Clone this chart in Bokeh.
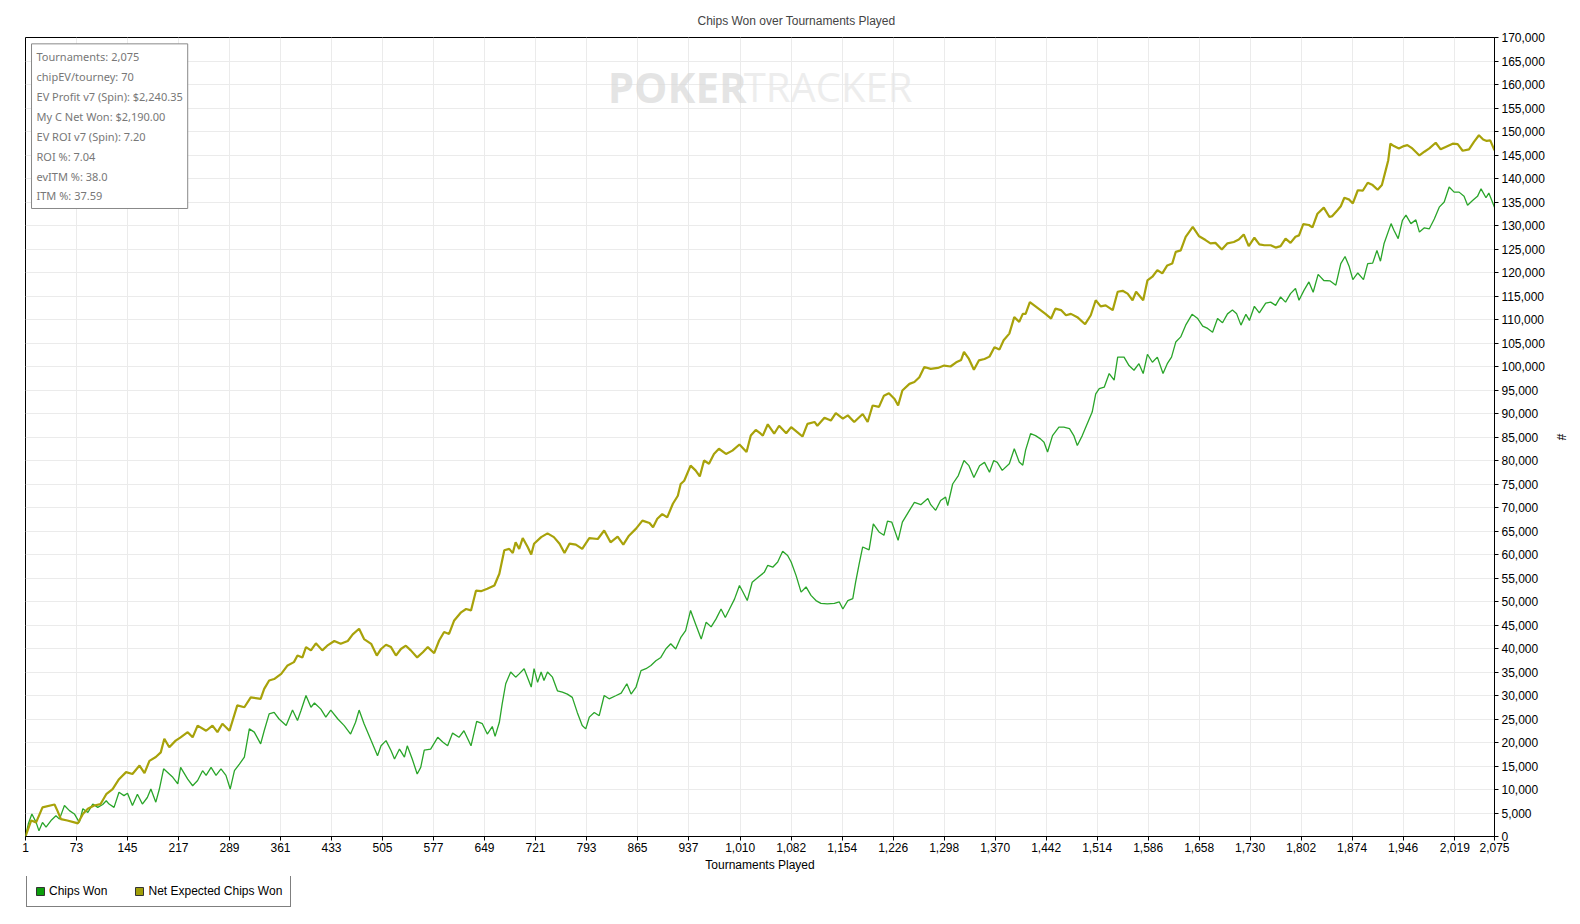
from bokeh.plotting import figure
from bokeh.layouts import column
from bokeh.models import (Range1d, FixedTicker, SingleIntervalTicker, NumeralTickFormatter,
                          Legend, LegendItem, Label, ColumnDataSource)
from bokeh.embed import file_html
from bokeh.resources import INLINE

# ---- data ----
ev_t = [1, 9, 16, 25, 42, 46, 51, 60, 70, 75, 82, 89, 98, 107, 115, 124, 133, 143, 152, 162, 169, 176, 185, 192,
        197, 204, 213, 220, 230, 237, 244, 256, 265, 272, 279, 289, 300, 310, 319, 333,
        338, 345, 352, 362, 371, 380, 385, 392, 397, 404, 411, 420, 427, 437, 446, 456, 463, 472, 479, 489, 497,
        503, 510, 517, 524, 531, 538, 545, 554, 562, 569, 578, 585, 592, 599, 606, 616, 623, 630, 637, 644, 653,
        663, 670, 677, 684, 689, 693, 698,
        703, 710, 715, 719, 729, 738, 747, 755, 762, 769, 778, 787, 797, 809, 818, 827, 837, 845, 853, 863, 872,
        882, 887, 893, 900, 907, 915, 922, 926, 931, 940, 947, 953, 959, 966, 973, 980, 990, 999, 1009, 1019,
        1025, 1032, 1039,
        1042, 1049, 1058, 1065, 1075, 1082, 1091, 1098, 1105, 1115, 1119, 1129, 1138, 1145, 1155, 1162, 1171,
        1183, 1190, 1197, 1206, 1213, 1220, 1228, 1233, 1239, 1249, 1256, 1263, 1270, 1279, 1289, 1298, 1307,
        1315, 1322, 1326, 1333, 1340, 1347, 1355, 1362, 1369, 1376, 1382, 1390,
        1397, 1404, 1409, 1413, 1419, 1427, 1434, 1441, 1449, 1455, 1463, 1470, 1477, 1486, 1497, 1505, 1512,
        1519, 1526, 1536, 1543, 1550, 1557, 1564, 1569, 1579, 1585, 1592, 1599, 1606, 1613, 1620, 1625, 1632,
        1639, 1649, 1658, 1667, 1674, 1681, 1690, 1698, 1707, 1714, 1721, 1728, 1736,
        1743, 1750, 1759, 1766, 1773, 1780, 1787, 1794, 1799, 1805, 1813, 1818, 1825, 1834, 1842, 1846, 1853,
        1858, 1863, 1870, 1875, 1882, 1889, 1896, 1903, 1910, 1916, 1922, 1925, 1928, 1933, 1940, 1947, 1952,
        1959, 1969, 1976, 1983, 1992, 1999, 2006, 2016, 2023, 2030, 2039, 2046, 2053, 2059, 2064, 2069, 2075]
ev_v = [0, 3400, 3000, 6200, 6800, 5500, 3700, 3400, 3000, 2800, 4800, 5900, 6600, 6900, 9000, 10100, 12200,
        13700, 13300, 15100, 13500, 16100, 16900, 17900, 20800, 19000, 20400, 21100, 22200, 21100, 23600, 22500,
        23600, 22200, 24000, 22500, 27900, 27500, 29600, 29300,
        31400, 33200, 33500, 34600, 36400, 37100, 38500, 38100, 40300, 39600, 41100, 39600, 40600, 41600, 41000,
        41600, 43000, 44200, 42000, 41000, 38500, 39900, 40800, 40300, 38500, 39900, 40600, 39600, 38100, 39200,
        40300, 39000, 41700, 43500, 43100, 45900, 47700, 48400, 48100, 52300, 52200, 52700, 53400, 55900, 60900,
        61200, 60300, 62600, 61200,
        63500, 61600, 60000, 62300, 63700, 64500, 63700, 62300, 60300, 62300, 62100, 61200, 63500, 63300, 65100,
        62600, 63800, 62100, 64000, 65500, 67200, 66700, 65800, 67600, 68600, 67900, 70800, 72500, 75000, 75700,
        78900, 77900, 76600, 80000, 79300, 81400, 82500, 81400, 82100, 83400, 81800, 85300, 86500, 85700,
        85300, 87700, 85700, 87400, 85800, 87100, 86000, 85100, 87800, 88200, 87400, 89100, 88500, 90100, 88900,
        89600, 88200, 89900, 88200, 91700, 91400, 93800, 94300, 93100, 91700, 94900, 96300, 96700, 97700, 99900,
        99500, 99700, 100200, 100000, 100900, 101400, 103100, 101600, 99300, 101300, 101600, 102100, 104100,
        103600, 105600, 107000,
        110500, 109500, 111200, 111200, 113700, 112800, 112000, 111200, 110200, 112300, 112000, 110900, 111200,
        110500, 109000, 110900, 114100, 112800, 113000, 112000, 115900, 116100, 115500, 114100, 115900, 114100,
        118300, 119100, 120500, 119800, 121500, 121900, 124400, 124700, 127600, 129700, 127700, 126900, 126200,
        126300, 124900, 126200, 126500, 127000, 128100, 125600, 127400,
        126000, 125800, 125800, 125300, 125600, 127200, 126300, 127600, 127900, 130300, 130100, 129600, 132500,
        133800, 131800, 132000, 133200, 134100, 135900, 135500, 134700, 137500, 137400, 139100, 138600, 137600,
        138600, 142100, 143900, 147400, 146900, 146400, 146900, 147100, 146400, 144900, 145700, 146400, 147600,
        146200, 146700, 147400, 147300, 145900, 146200, 147800, 149200, 148300, 148000, 148100, 146000]

won_t = [1, 5, 10, 16, 20, 25, 30, 37, 44, 49, 56, 63, 70, 77, 82, 89, 96, 103, 110, 115, 119, 126, 133, 140, 145,
         152, 159, 166, 173, 178, 185, 190, 196, 204, 209, 216, 220, 230, 237, 244, 251, 256, 263, 270, 277, 284,
         290, 296, 303, 310, 317, 324, 333,
         338, 345, 352, 359, 369, 378, 385, 390, 397, 404, 409, 418, 425, 432, 442, 451, 460, 467, 472, 479, 489,
         498, 503, 510, 517, 522, 529, 536, 540, 547, 554, 559, 564, 573, 583, 590, 597, 604, 613, 620, 630, 638,
         646, 653, 660, 664, 670, 674, 679, 686, 693, 698,
         705, 715, 719, 724, 729, 733, 738, 745, 752, 759, 766, 773, 780, 787, 792, 797, 804, 811, 818, 825, 835,
         842, 850, 856, 863, 870, 877, 884, 891, 898, 905, 912, 919, 926, 933, 940, 947, 955, 962, 969, 976, 983,
         989, 995, 1002, 1009, 1013, 1020, 1027, 1035, 1044,
         1049, 1056, 1063, 1070, 1077, 1082, 1089, 1096, 1103, 1110, 1117, 1124, 1133, 1143, 1150, 1155, 1162,
         1169, 1173, 1178, 1183, 1192, 1198, 1206, 1213, 1218, 1224, 1233, 1239, 1249, 1256, 1265, 1275, 1279,
         1286, 1293, 1300, 1303, 1310, 1318, 1326, 1333, 1340, 1348, 1355, 1362, 1368, 1373, 1380, 1390,
         1397, 1404, 1409, 1413, 1420, 1427, 1434, 1439, 1444, 1451, 1460, 1467, 1475, 1481, 1486, 1493, 1500,
         1507, 1512, 1517, 1524, 1531, 1538, 1543, 1552, 1559, 1566, 1573, 1579, 1585, 1592, 1599, 1607, 1613,
         1619, 1625, 1632, 1639, 1648, 1656, 1663, 1670, 1677, 1684, 1691, 1698, 1705, 1711, 1717, 1724, 1729,
         1736,
         1743, 1752, 1759, 1766, 1773, 1780, 1787, 1794, 1799, 1806, 1813, 1819, 1826, 1834, 1843, 1851, 1858,
         1864, 1870, 1875, 1882, 1890, 1896, 1903, 1909, 1914, 1919, 1929, 1933, 1939, 1945, 1950, 1957, 1964,
         1969, 1976, 1983, 1990, 1997, 2004, 2011, 2018, 2025, 2032, 2037, 2044, 2051, 2056, 2063, 2067, 2075]
won_v = [0, 2700, 4800, 3000, 1200, 3000, 2000, 3400, 4400, 3700, 6600, 5500, 4800, 3000, 5900, 5100, 6900, 6200,
         6800, 7600, 6900, 6200, 9400, 8700, 9200, 6600, 9000, 6900, 8300, 10100, 7300, 10100, 14400, 13300,
         12600, 11200, 14700, 12200, 10800, 11900, 14000, 13000, 14700, 13000, 14400, 13000, 10100, 14000, 15400,
         16900, 22900, 22200, 19700,
         22500, 26100, 26400, 25000, 23600, 26900, 24700, 26800, 30000, 27500, 28400, 27100, 25400, 26900, 25000,
         23600, 21800, 24300, 26900, 24000, 20400, 17200, 19300, 20400, 18300, 16500, 18600, 16900, 19300, 16500,
         13300, 14700, 18400, 18600, 21100, 20100, 19300, 22000, 21100, 22500, 19300, 24500, 24000, 21800, 23400,
         21300, 24300, 28200, 32500, 35000, 33900, 34600,
         35700, 31800, 35700, 32800, 35000, 33200, 35000, 33900, 31000, 30700, 30300, 29600, 26400, 23600, 22900,
         25400, 26400, 25700, 30000, 29300, 30000, 30500, 32500, 30300, 31800, 35300, 35700, 36400, 37400, 38100,
         39900, 41000, 39900, 42300, 43800, 48100, 45200, 42000, 45600, 44600, 46300, 48400, 46600, 48400, 50500,
         53400, 52300, 50200, 54100, 55100, 56200,
         57700, 57300, 58400, 60700, 59800, 58400, 55500, 52000, 53100, 51300, 50200, 49600, 49500, 49600, 49900,
         48400, 50200, 50600, 54100, 58000, 61600, 61000, 66500, 64800, 64100, 67100, 66900, 63000, 66900, 69400,
         71100, 70600, 71900, 70600, 69400, 71500, 72200, 70400, 75000, 76800, 80000, 78900, 76400, 78900, 79600,
         77500, 80000, 79600, 77900, 79300,
         82500, 79700, 79000, 82200, 85700, 85300, 84600, 83900, 81800, 85300, 87100, 87100, 86800, 85300, 83200,
         85300, 87800, 90300, 94200, 95300, 95600, 98500, 97100, 102000, 102000, 100200, 99200, 100600, 98500,
         102600, 100900, 102000, 98500, 100600, 102000, 105200, 106300, 108800, 111100, 110200, 108600, 108100,
         107300, 110200, 109300, 111200, 112000, 111200, 108800, 111100, 109800, 112800,
         111400, 113500, 113700, 113000, 114800, 113700, 115500, 116600, 114100, 116200, 118000, 115800, 119600,
         118300, 118200, 117300, 121900, 123400, 121200, 118500, 119900, 118500, 121900, 122000, 124700, 122400,
         126100, 130400, 129000, 127200, 131100, 132200, 130400, 131200, 128600, 129500, 129300, 131400, 133900,
         135000, 138200, 137100, 137100, 136200, 134300, 135300, 136200, 137800, 135900, 136900, 133900]

x_ticks = [1, 73, 145, 217, 289, 361, 433, 505, 577, 649, 721, 793, 865, 937, 1010, 1082, 1154, 1226, 1298,
           1370, 1442, 1514, 1586, 1658, 1730, 1802, 1874, 1946, 2019, 2075]
series_names = ["Chips Won", "Net Expected Chips Won"]
info_lines = ["Tournaments: 2,075", "chipEV/tourney: 70", "EV Profit v7 (Spin): $2,240.35",
              "My C Net Won: $2,190.00", "EV ROI v7 (Spin): 7.20", "ROI %: 7.04", "evITM %: 38.0",
              "ITM %: 37.59"]

GREEN = "#2aa52a"
OLIVE = "#a8a20a"
FONT = "Liberation Sans"
NAN = float("nan")

p = figure(width=1572, height=876, x_range=Range1d(1, 2075), y_range=Range1d(0, 170000),
           y_axis_location="right", toolbar_location=None, output_backend="svg",
           min_border_left=25, min_border_right=78, min_border_top=37, min_border_bottom=40)
p.background_fill_color = "white"
p.border_fill_color = "white"
p.outline_line_color = "black"
p.outline_line_width = 1

p.title.text = "Chips Won over Tournaments Played"
p.title.text_font = FONT
p.title.text_font_size = "12px"
p.title.text_font_style = "normal"
p.title.align = "left"
p.title.offset = 672
p.title.standoff = 20

# axes
xa = p.xaxis[0]
xa.ticker = FixedTicker(ticks=x_ticks)
xa.formatter = NumeralTickFormatter(format="0,0")
xa.axis_label = "Tournaments Played"
ya = p.yaxis[0]
ya.ticker = SingleIntervalTicker(interval=5000, num_minor_ticks=0)
ya.formatter = NumeralTickFormatter(format="0,0")
ya.axis_label = "#"
for ax in (xa, ya):
    ax.axis_line_color = "black"
    ax.major_tick_line_color = "black"
    ax.major_tick_out = 4
    ax.major_tick_in = 0
    ax.minor_tick_line_color = None
    ax.major_label_text_font = FONT
    ax.major_label_text_font_size = "12px"
    ax.major_label_text_color = "black"
    ax.major_label_standoff = 3
    ax.axis_label_text_font = FONT
    ax.axis_label_text_font_size = "12px"
    ax.axis_label_text_font_style = "normal"
    ax.axis_label_text_color = "black"
xa.major_label_standoff = 2
xa.axis_label_standoff = 3
ya.axis_label_standoff = 6

p.xgrid.ticker = FixedTicker(ticks=x_ticks)
p.ygrid.ticker = SingleIntervalTicker(interval=5000, num_minor_ticks=0)
p.xgrid.grid_line_color = "#ebebeb"
p.ygrid.grid_line_color = "#ebebeb"

# watermark
p.add_layout(Label(x=823, y=159600, text="POKER", text_font="Open Sans", text_font_size="42px",
                   text_font_style="bold", text_color="#d9d9d9", text_alpha=0.7, text_baseline="alphabetic"))
p.add_layout(Label(x=1015, y=159600, text="TRACKER", text_font="Open Sans", text_font_size="40px",
                   text_color="#e6e6e6", text_alpha=0.7, text_baseline="alphabetic"))

# series
r_won = p.line(won_t, won_v, line_color=GREEN, line_width=1.3)
r_ev = p.line(ev_t, ev_v, line_color=OLIVE, line_width=2.2)

# info box
info = Label(x=9.5, y=168650, text="\n".join(info_lines), text_font="Noto Sans", text_font_size="11px",
             text_color="#777777", text_align="left", text_baseline="top", text_line_height=1.33,
             border_line_color="#888888", border_line_width=1, background_fill_color="white",
             padding=5)
p.add_layout(info)

# legend strip below the chart (square swatches; the NaN quads only supply the swatch style)
lg = figure(width=1572, height=40, x_range=Range1d(0, 1), y_range=Range1d(0, 1),
            x_axis_location=None, y_axis_location=None, toolbar_location=None, output_backend="svg",
            min_border_left=0, min_border_right=0, min_border_top=0, min_border_bottom=0)
lg.outline_line_color = None
lg.grid.visible = False
lg.background_fill_color = "white"
lg.border_fill_color = "white"
swatch = ColumnDataSource(dict(l=[NAN], r=[NAN], b=[NAN], t=[NAN]))
sw_won = lg.quad(left="l", right="r", bottom="b", top="t", source=swatch, fill_color="#0b9e0b",
                 line_color="#333333")
sw_ev = lg.quad(left="l", right="r", bottom="b", top="t", source=swatch, fill_color="#a09e08",
                line_color="#333333")
legend = Legend(items=[LegendItem(label=series_names[0], renderers=[sw_won]),
                       LegendItem(label=series_names[1], renderers=[sw_ev])],
                orientation="horizontal", location=(1, 9))
legend.label_text_font = FONT
legend.label_text_font_size = "12px"
legend.label_text_color = "black"
legend.glyph_width = 10
legend.glyph_height = 10
legend.label_standoff = 4
legend.spacing = 27
legend.padding = 8
legend.margin = 0
legend.border_line_color = "black"
legend.border_line_width = 1
legend.background_fill_color = "white"
legend.label_height = 14
lg.add_layout(legend)

page = column(p, lg, spacing=0)
open("out.html", "w").write(file_html(page, INLINE))
